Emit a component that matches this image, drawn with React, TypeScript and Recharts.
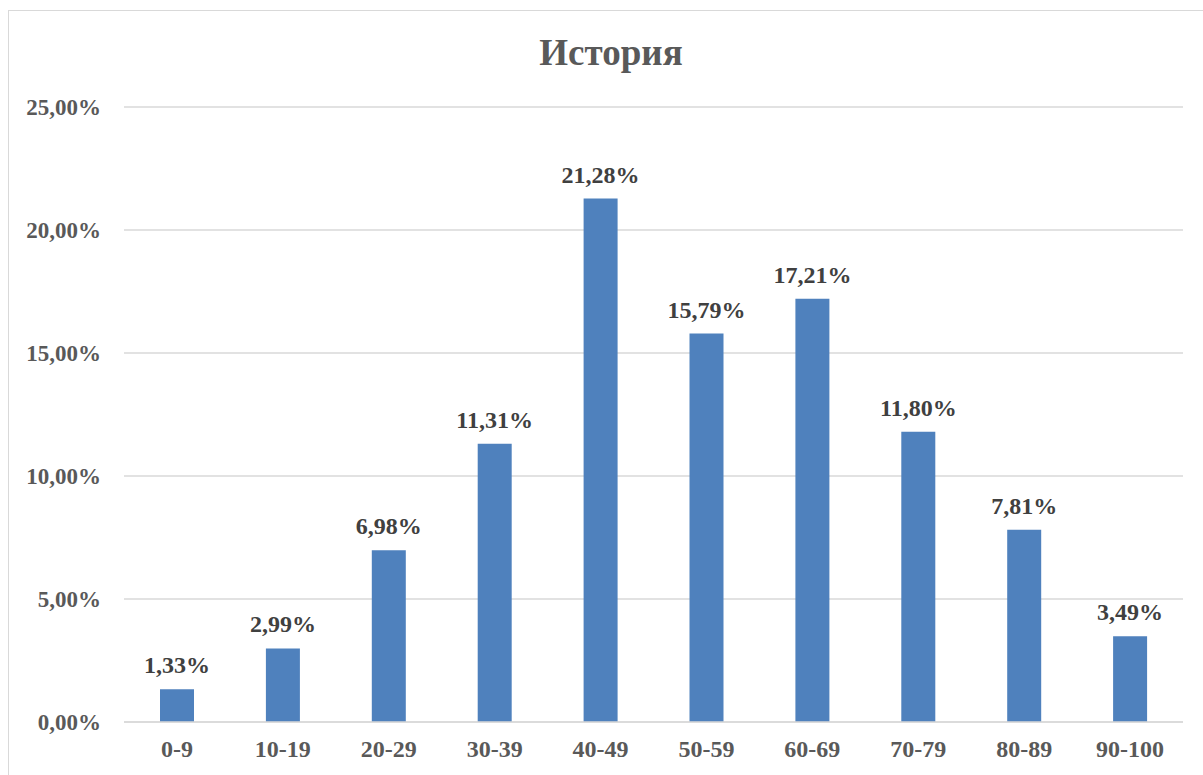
import React from 'react';
import { BarChart, Bar, XAxis, YAxis, CartesianGrid, LabelList } from 'recharts';

const ranges = ['0-9', '10-19', '20-29', '30-39', '40-49', '50-59', '60-69', '70-79', '80-89', '90-100'];
const shares = [1.33, 2.99, 6.98, 11.31, 21.28, 15.79, 17.21, 11.8, 7.81, 3.49];
const yTicks = [0, 5, 10, 15, 20, 25];

const data = ranges.map((range, i) => ({ range, share: shares[i] }));

const pct = (v: number) => v.toFixed(2).replace('.', ',') + '%';
const font = '"Liberation Serif", "Times New Roman", serif';

export default function App() {
  return (
    <div style={{ position: 'absolute', left: 0, top: 0, width: 1203, height: 775, overflow: 'hidden', background: '#fff', fontFamily: font }}>
      <div style={{ position: 'absolute', left: 8, top: 10, width: 1220, height: 800, border: '1.5px solid #d9d9d9' }} />
      <div style={{ position: 'absolute', left: 0, width: 1222, top: 31, textAlign: 'center', fontSize: 37, fontWeight: 'bold', color: '#595959' }}>
        История
      </div>
      <div style={{ position: 'absolute', left: 0, top: 0 }}>
        <BarChart width={1203} height={775} data={data} margin={{ top: 107, right: 20, bottom: 0, left: 0 }} barSize={34}>
          <CartesianGrid vertical={false} stroke="#d9d9d9" strokeWidth={1.5} />
          <XAxis
            dataKey="range"
            height={53}
            tickLine={false}
            axisLine={{ stroke: '#d9d9d9', strokeWidth: 1.5 }}
            tick={{ fill: '#595959', fontSize: 24, fontWeight: 'bold', fontFamily: font }}
            tickMargin={12}
          />
          <YAxis
            width={124}
            domain={[0, 25]}
            ticks={yTicks}
            interval={0}
            tickFormatter={pct}
            axisLine={false}
            tickLine={false}
            tickSize={0}
            tickMargin={23}
            tick={{ fill: '#595959', fontSize: 23, fontWeight: 'bold', fontFamily: font }}
          />
          <Bar dataKey="share" fill="#4f81bd" isAnimationActive={false}>
            <LabelList
              dataKey="share"
              position="top"
              offset={16}
              formatter={(v: any) => pct(Number(v))}
              style={{ fill: '#404040', fontSize: 24, fontWeight: 'bold', fontFamily: font }}
            />
          </Bar>
        </BarChart>
      </div>
    </div>
  );
}
